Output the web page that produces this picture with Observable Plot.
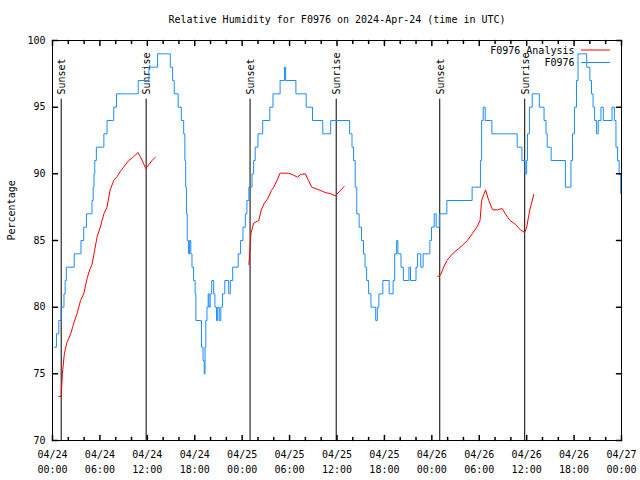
<!DOCTYPE html>
<html><head><meta charset="utf-8">
<script src="https://cdn.jsdelivr.net/npm/d3@7"></script>
<script src="https://cdn.jsdelivr.net/npm/@observablehq/plot@0.6"></script>
<style>html,body{margin:0;padding:0;background:#fff}svg{display:block}</style>
</head><body><div id="chart"></div>
<script>
// ---- Text ----
const title = "Relative Humidity for F0976 on 2024-Apr-24 (time in UTC)";
const yLabel = "Percentage";
const seriesNames = ["F0976 Analysis", "F0976"];

// ---- Axis ticks (hours since 2024-04-24 00:00 UTC) ----
const xTickHours = [0, 6, 12, 18, 24, 30, 36, 42, 48, 54, 60, 66, 72];
const xTickDates = ["04/24","04/24","04/24","04/24","04/25","04/25","04/25","04/25","04/26","04/26","04/26","04/26","04/27"];
const xTickTimes = ["00:00","06:00","12:00","18:00","00:00","06:00","12:00","18:00","00:00","06:00","12:00","18:00","00:00"];
const xMinorHours = [2,4,8,10,14,16,20,22,26,28,32,34,38,40,44,46,50,52,56,58,62,64,68,70];
const yTicks = [70, 75, 80, 85, 90, 95, 100];
const yTickLabels = ["70", "75", "80", "85", "90", "95", "100"];

// ---- Sunrise / sunset events ----
const sunHours = [1.1, 11.85, 25.0, 35.9, 49.0, 59.75];
const sunLabels = ["Sunset", "Sunrise", "Sunset", "Sunrise", "Sunset", "Sunrise"];

// ---- Observed RH (F0976) ----
const blueHours = [0.25,0.5,0.8,1.1,1.45,1.6,1.75,2.6,2.75,3.5,3.6,3.95,4.3,4.7,5.0,5.15,5.25,5.35,5.55,6.3,6.5,6.9,7.6,7.75,8.1,
  10.75,10.85,11.9,12.2,13.2,13.3,14.7,14.9,15.2,15.4,15.9,16.3,16.6,16.75,16.85,16.95,17.05,17.2,17.35,17.5,17.65,17.85,18.05,18.15,
  18.75,18.85,19.05,19.2,19.3,19.4,19.55,19.7,19.8,19.95,20.15,20.4,20.55,20.75,20.9,21.1,21.3,21.5,21.8,22.3,22.5,22.8,23.5,23.8,
  24.1,24.4,24.6,24.85,25.25,25.45,25.65,26.0,26.6,27.5,27.9,28.8,29.35,29.5,30.8,32.1,32.9,34.2,35.2,37.6,37.9,38.1,38.3,38.5,38.8,
  39.1,39.35,39.55,39.75,40.0,40.3,40.7,40.9,41.1,41.3,41.8,42.6,43.1,43.3,43.55,43.7,44.1,44.4,45.1,45.3,46.0,46.2,46.6,46.9,47.75,
  47.95,48.3,48.55,48.95,49.9,53.1,54.15,54.3,54.5,54.75,55.6,58.8,59.4,59.8,60.0,60.1,60.35,60.7,61.6,62.2,62.45,62.6,63.1,64.9,
  65.6,65.8,66.05,66.3,66.5,67.6,68.0,68.2,68.4,68.6,68.85,69.05,69.4,69.7,70.8,71.1,71.3,71.5,71.7,71.9,72.0];
const blueValues = [77,78,79,80,81,82,83,83,84,84,85,86,87,87,88,89,90,91,92,92,93,94,94,95,96,
  96,97,97,98,98,99,99,98,97,96,95,94,93,91,89,87,85,84,85,84,83,82,81,79,
  79,77,76,75,77,79,80,81,80,81,82,81,80,79,80,79,80,81,82,81,82,83,84,85,
  86,87,88,89,90,91,92,93,94,95,96,97,98,97,96,95,94,93,94,93,92,91,89,87,86,
  85,84,83,82,81,80,80,79,80,81,82,81,82,84,85,84,83,82,83,82,83,84,83,84,85,
  86,87,86,87,88,89,91,94,95,94,93,92,91,90,91,93,95,96,95,94,93,92,91,89,
  91,93,95,97,99,98,97,96,95,94,93,94,95,94,95,94,92,91,90,88.5,88.5];

// ---- Analysis RH (three segments; null breaks the line) ----
const redHours = [0.8,1.1,1.25,1.5,1.8,2.3,2.7,3.1,3.55,3.95,4.4,4.7,5.0,5.25,5.65,6.05,6.5,6.9,7.3,7.75,8.2,8.6,9.0,9.65,10.1,10.5,10.8,11.1,11.5,11.8,12.2,12.6,13.0,
  13.05,
  24.85,24.95,25.1,25.45,26.1,26.4,26.8,27.2,27.7,28.0,28.4,28.8,29.9,30.5,31.0,31.4,32.0,32.4,32.8,33.7,34.5,35.2,35.8,36.9,
  36.95,
  48.75,49.1,49.5,49.9,50.6,51.2,51.8,52.5,53.1,53.7,54.1,54.3,54.6,54.8,55.2,55.7,56.3,56.9,57.3,57.9,58.6,59.2,59.75,60.0,60.4,60.9];
const redValues = [73.3,73.3,75,76.5,77.3,78,78.8,79.5,80.5,81,82.2,82.8,83.2,84,85.3,86,87,87.5,88.8,89.5,89.8,90.2,90.5,91,91.2,91.4,91.6,91.3,90.8,90.4,90.7,91,91.25,
  null,
  83.2,84,85.5,86.3,86.5,87.25,87.8,88.1,88.75,89,89.5,90.05,90.05,89.9,89.75,89.95,90,89.5,89,88.8,88.6,88.5,88.35,89.05,
  null,
  82.3,82.4,83,83.5,84,84.3,84.6,85,85.5,86,86.5,88,88.5,88.8,88,87.3,87.3,87.4,87,86.5,86.2,85.8,85.6,86,87.3,88.45];

// ---- Styles ----
const BLUE = "#1a8cff";
const RED = "#ff0000";
const FONT = "'DejaVu Sans Mono', 'Liberation Mono', monospace";

const blueData = blueHours.map((h, i) => ({h, v: blueValues[i]}));
const redData = redHours.map((h, i) => ({h, v: redValues[i]}));
const sunData = sunHours.map((h, i) => ({h, label: sunLabels[i]}));

const tick = {draw(ctx, l) { ctx.moveTo(0, 0); ctx.lineTo(0, -l); }};

const mL = 52, mR = 19, mT = 40, mB = 40, W = 640, H = 480;

const plot = Plot.plot({
  width: W, height: H,
  marginLeft: mL, marginRight: mR, marginTop: mT, marginBottom: mB,
  style: {fontFamily: FONT, fontSize: "10px", background: "#fff", color: "#000"},
  x: {domain: [0, 72], axis: null},
  y: {domain: [70, 100], axis: null},
  marks: [
    Plot.ruleX(sunData, {x: "h", y1: 70, y2: 95.6, stroke: "#000", strokeWidth: 1}),
    Plot.text(sunData, {x: "h", y: 95.95, text: "label", rotate: -90, textAnchor: "start", lineAnchor: "middle", dx: 1, fill: "#000"}),
    Plot.line(redData, {x: "h", y: "v", stroke: RED, strokeWidth: 1}),
    Plot.line(blueData, {x: "h", y: "v", stroke: BLUE, strokeWidth: 1, curve: "step-after"}),
    Plot.frame({stroke: "#000", strokeWidth: 1}),
    // x ticks (inward, mirrored)
    Plot.vector(xTickHours, {x: d => d, frameAnchor: "bottom", length: 5, rotate: 0, anchor: "start", shape: tick, stroke: "#000"}),
    Plot.vector(xTickHours, {x: d => d, frameAnchor: "top", length: 5, rotate: 180, anchor: "start", shape: tick, stroke: "#000"}),
    Plot.vector(xMinorHours, {x: d => d, frameAnchor: "bottom", length: 3, rotate: 0, anchor: "start", shape: tick, stroke: "#000"}),
    Plot.vector(xMinorHours, {x: d => d, frameAnchor: "top", length: 3, rotate: 180, anchor: "start", shape: tick, stroke: "#000"}),
    // y ticks
    Plot.vector(yTicks, {y: d => d, frameAnchor: "left", length: 5, rotate: 90, anchor: "start", shape: tick, stroke: "#000"}),
    Plot.vector(yTicks, {y: d => d, frameAnchor: "right", length: 5, rotate: -90, anchor: "start", shape: tick, stroke: "#000"}),
    // tick labels
    Plot.text(yTicks, {y: d => d, frameAnchor: "left", dx: -7, textAnchor: "end", text: (d, i) => yTickLabels[i], fill: "#000"}),
    Plot.text(xTickHours, {x: d => d, frameAnchor: "bottom", dy: 7, lineAnchor: "top", lineHeight: 1.5,
      text: (d, i) => xTickDates[i] + "\n" + xTickTimes[i], fill: "#000"}),
    // title and axis label
    Plot.text([title], {frameAnchor: "top", dy: -21, lineAnchor: "middle", text: d => d, fill: "#000"}),
    Plot.text([yLabel], {frameAnchor: "left", dx: -41, rotate: -90, lineAnchor: "middle", text: d => d, fill: "#000"}),
    // legend labels
    Plot.text([seriesNames[0]], {frameAnchor: "top-right", dx: -47, dy: 10, textAnchor: "end", lineAnchor: "middle", text: d => d, fill: "#000"}),
    Plot.text([seriesNames[1]], {frameAnchor: "top-right", dx: -47, dy: 22.5, textAnchor: "end", lineAnchor: "middle", text: d => d, fill: "#000"})
  ]
});

// legend line samples
const svg = d3.select(plot);
const right = W - mR;
[[RED, mT + 9.5], [BLUE, mT + 22]].forEach(([c, y]) => {
  svg.append("line").attr("x1", right - 40).attr("x2", right - 11)
    .attr("y1", y + 0.5).attr("y2", y + 0.5).attr("stroke", c).attr("stroke-width", 1);
});

document.getElementById("chart").appendChild(plot);
</script>
</body></html>
